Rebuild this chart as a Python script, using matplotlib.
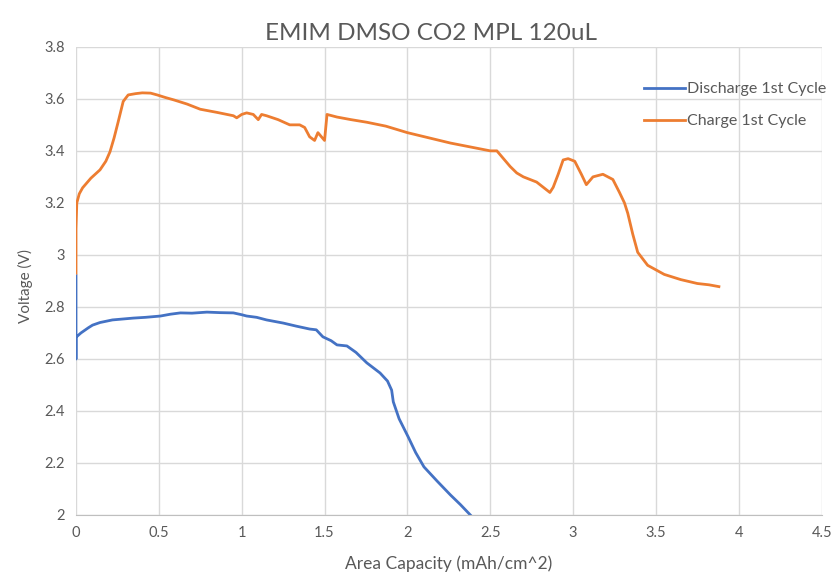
import matplotlib.pyplot as plt
from matplotlib.ticker import FuncFormatter

# Discharge 1st cycle (capacity mAh/cm^2, voltage V)
dis_x = [0.0, 0.0, 0.0, 0.005, 0.03, 0.075, 0.10, 0.145, 0.22, 0.345, 0.42, 0.51,
         0.57, 0.63, 0.70, 0.79, 0.87, 0.95, 1.0, 1.03, 1.09, 1.15, 1.25, 1.33,
         1.41, 1.45, 1.49, 1.54, 1.575, 1.635, 1.69, 1.755, 1.835, 1.88, 1.905,
         1.915, 1.95, 2.005, 2.05, 2.10, 2.18, 2.26, 2.32, 2.38]
dis_y = [2.92, 2.60, 2.69, 2.686, 2.70, 2.72, 2.73, 2.74, 2.75, 2.757, 2.76, 2.765,
         2.772, 2.777, 2.776, 2.78, 2.778, 2.777, 2.77, 2.765, 2.76, 2.75, 2.738, 2.726,
         2.715, 2.712, 2.685, 2.67, 2.654, 2.65, 2.625, 2.585, 2.546, 2.515, 2.48,
         2.435, 2.37, 2.30, 2.24, 2.185, 2.13, 2.077, 2.04, 2.0]

# Charge 1st cycle
chg_x = [0.0, 0.0, 0.005, 0.02, 0.04, 0.09, 0.145, 0.18, 0.205, 0.23, 0.254, 0.285,
         0.315, 0.36, 0.40, 0.45, 0.49, 0.54, 0.59, 0.67, 0.75, 0.85, 0.95, 0.97,
         1.0, 1.03, 1.07, 1.10, 1.12, 1.15, 1.22, 1.29, 1.35, 1.38, 1.41, 1.44,
         1.46, 1.48, 1.50, 1.515, 1.575, 1.66, 1.755, 1.87, 2.0, 2.13, 2.26, 2.38,
         2.50, 2.54, 2.58, 2.62, 2.66, 2.70, 2.78, 2.86, 2.88, 2.91, 2.94, 2.97,
         3.01, 3.05, 3.08, 3.12, 3.18, 3.24, 3.28, 3.31, 3.33, 3.36, 3.39, 3.45,
         3.55, 3.65, 3.75, 3.82, 3.88]
chg_y = [2.93, 3.10, 3.20, 3.235, 3.258, 3.295, 3.327, 3.36, 3.396, 3.45, 3.51, 3.59,
         3.615, 3.62, 3.623, 3.622, 3.615, 3.605, 3.596, 3.58, 3.56, 3.548, 3.535, 3.527,
         3.54, 3.546, 3.54, 3.52, 3.54, 3.535, 3.52, 3.50, 3.50, 3.49, 3.454, 3.44,
         3.47, 3.455, 3.44, 3.54, 3.53, 3.52, 3.51, 3.495, 3.47, 3.45, 3.43, 3.415,
         3.40, 3.40, 3.37, 3.34, 3.315, 3.30, 3.28, 3.24, 3.26, 3.31, 3.365, 3.37,
         3.36, 3.31, 3.27, 3.30, 3.31, 3.29, 3.24, 3.20, 3.16, 3.08, 3.01, 2.96,
         2.925, 2.905, 2.89, 2.885, 2.878]

x_ticks = [0, 0.5, 1, 1.5, 2, 2.5, 3, 3.5, 4, 4.5]
y_ticks = [2, 2.2, 2.4, 2.6, 2.8, 3, 3.2, 3.4, 3.6, 3.8]

plt.rcParams['font.family'] = ['Lato', 'DejaVu Sans']
text_col = '#595959'

fig = plt.figure(figsize=(8.35, 5.78), dpi=100)
ax = fig.add_axes([0.091, 0.109, 0.893, 0.81])

ax.plot(dis_x, dis_y, color='#4472C4', lw=2.0, label='Discharge 1st Cycle')
ax.plot(chg_x, chg_y, color='#ED7D31', lw=2.0, label='Charge 1st Cycle')

ax.set_xlim(0, 4.5)
ax.set_ylim(2, 3.8)
ax.set_xticks(x_ticks)
ax.set_yticks(y_ticks)
fmt = FuncFormatter(lambda v, p: f"{v:g}")
ax.xaxis.set_major_formatter(fmt)
ax.yaxis.set_major_formatter(fmt)
ax.grid(True, color='#D9D9D9', lw=1.0)
ax.set_axisbelow(True)
for s in ['top', 'right', 'left']:
    ax.spines[s].set_visible(False)
ax.spines['bottom'].set_color('#BFBFBF')
ax.tick_params(length=0, colors=text_col, labelsize=10.5, pad=8)

# title is centred on the whole chart area, as in Excel
fig.text(0.516, 0.942, 'EMIM DMSO CO2 MPL 120uL', fontsize=17.5, color=text_col,
         ha='center', va='center')
ax.set_xlabel('Area Capacity (mAh/cm^2)', fontsize=12.5, color=text_col, labelpad=11)
ax.set_ylabel('Voltage (V)', fontsize=11, color=text_col, labelpad=8)
ax.yaxis.set_label_coords(-0.057, 0.49)

leg = ax.legend(loc='upper left', bbox_to_anchor=(0.742, 0.955), frameon=False,
                fontsize=11.5, handlelength=2.6, handletextpad=0.1, labelspacing=1.1)
for t in leg.get_texts():
    t.set_color(text_col)

plt.savefig('out.png', dpi=100)
